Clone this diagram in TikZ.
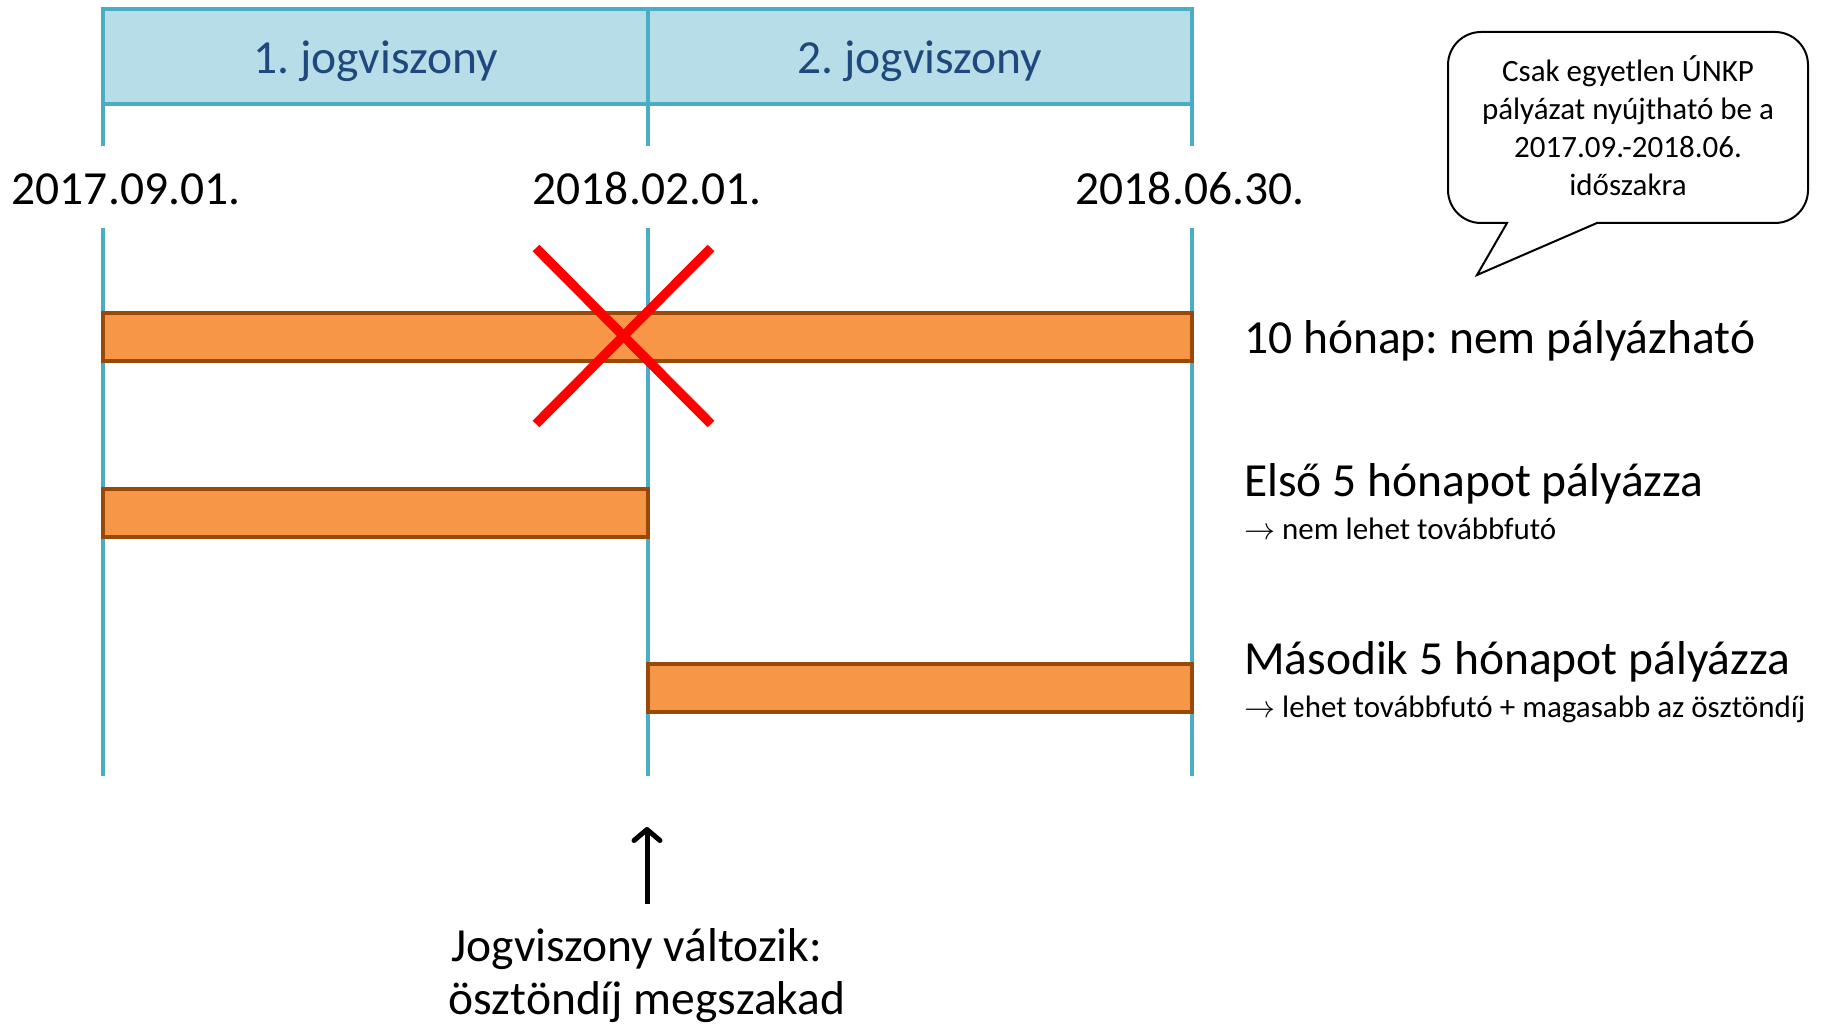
\RequirePackage{fix-cm}
\documentclass[tikz,border=0pt]{standalone}
\usepackage{fontspec}
\setmainfont{Carlito}
\usetikzlibrary{arrows.meta}
\definecolor{hdrfill}{RGB}{183,221,232}
\definecolor{hdrline}{RGB}{75,172,198}
\definecolor{hdrtext}{RGB}{31,73,125}
\definecolor{barfill}{RGB}{247,150,70}
\definecolor{barline}{RGB}{152,72,7}
\definecolor{xred}{RGB}{255,0,0}
\frenchspacing
\begin{document}
\begin{tikzpicture}[x=1pt,y=-1pt,
  big/.style={font=\fontsize{47.5}{56}\selectfont, inner sep=0pt},
  small/.style={font=\fontsize{31}{38}\selectfont, inner sep=0pt},
  vline/.style={draw=hdrline, line width=4.5pt},
  bar/.style={draw=barline, fill=barfill, line width=4pt},
  cross/.style={draw=xred, line width=9.5pt},
  uparrow/.style={draw=black, line width=5pt, -{Straight Barb[length=11pt,width=26pt,round]}},
  bubble/.style={draw=black, line width=2pt, fill=white}]
\useasboundingbox (0,0) rectangle (1837,1024);

% header
\draw[vline, fill=hdrfill] (103,9) rectangle (1192,104);
\draw[vline] (648,9) -- (648,104);
\node[big, text=hdrtext, anchor=base] (h1) at (375.5,74) {1. jogviszony};
\node[big, text=hdrtext, anchor=base] (h2) at (920,74) {2. jogviszony};

% vertical time lines
\foreach \xx in {103,648,1192}{
  \draw[vline] (\xx,104) -- (\xx,146);
  \draw[vline] (\xx,228) -- (\xx,776);
}

% dates
\node[big, anchor=base] (d1) at (126,205) {2017.09.01.};
\node[big, anchor=base] (d2) at (647,205) {2018.02.01.};
\node[big, anchor=base] (d3) at (1190,205) {2018.06.30.};

% bars
\draw[bar] (103,313) rectangle (1192,361);
\draw[bar] (103,489) rectangle (648,537);
\draw[bar] (648,664) rectangle (1192,712);

% red cross
\draw[cross] (536,248) -- (711,424);
\draw[cross] (711,248) -- (536,424);

% right labels
\node[big, anchor=base west] (l1) at (1244,353) {10 hónap: nem pályázható};
\node[big, anchor=base west] (l2) at (1244,496) {Első 5 hónapot pályázza};
\node[small, anchor=base west] (l2s) at (1244,539) {$\rightarrow$ nem lehet továbbfutó};
\node[big, anchor=base west] (l3) at (1244,674) {Második 5 hónapot pályázza};
\node[small, anchor=base west] (l3s) at (1244,717) {$\rightarrow$ lehet továbbfutó + magasabb az ösztöndíj};

% change arrow and text
\coordinate (chgfoot) at (647,904);
\coordinate (chgtip) at (647,827);
\draw[uparrow] (chgfoot) -- (chgtip);
\node[big, anchor=base] (jv1) at (637,961) {Jogviszony változik:};
\node[big, anchor=base] (jv2) at (647,1014) {ösztöndíj megszakad};

% callout
\draw[bubble] (1507,223) -- (1481,223) .. controls (1462.8,223) and (1448,208.2) .. (1448,190)
  -- (1448,65) .. controls (1448,46.8) and (1462.8,32) .. (1481,32)
  -- (1775,32) .. controls (1793.2,32) and (1808,46.8) .. (1808,65)
  -- (1808,190) .. controls (1808,208.2) and (1793.2,223) .. (1775,223)
  -- (1597,223) -- (1477,275) -- cycle;
\node[small, anchor=base] (c1) at (1628,82) {Csak egyetlen ÚNKP};
\node[small, anchor=base] (c2) at (1628,120) {pályázat nyújtható be a};
\node[small, anchor=base] (c3) at (1628,158) {2017.09.-2018.06.};
\node[small, anchor=base] (c4) at (1628,196) {időszakra};
\end{tikzpicture}
\end{document}
